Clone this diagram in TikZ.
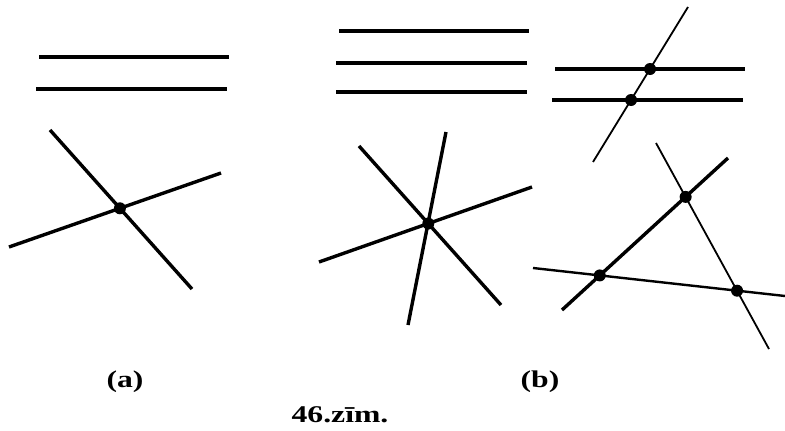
\documentclass[tikz,border=0pt]{standalone}
\usepackage{fontspec}
\setmainfont{Liberation Serif}
\usetikzlibrary{calc}

\tikzset{
  fatline/.style={line width=3.4pt},
  midline/.style={line width=2.4pt},
  thinline/.style={line width=1.8pt},
  dot/.style={circle,fill=black,inner sep=0pt,minimum size=12pt},
  caption/.style={font=\fontsize{24}{26}\selectfont\bfseries}
}
\newcommand{\widetext}[1]{\scalebox{1.32}[1]{#1}}

\begin{document}
\begin{tikzpicture}[x=1pt,y=-1pt]
\useasboundingbox (0,0) rectangle (785,431);

% (a) two parallel lines
\coordinate (pa1) at (39,57);  \coordinate (pa2) at (229,57);
\coordinate (pb1) at (36,89);  \coordinate (pb2) at (227,89);
\draw[fatline] (pa1) -- (pa2);
\draw[fatline] (pb1) -- (pb2);

% (a) two crossing lines
\coordinate (xa1) at (50,130);  \coordinate (xa2) at (192,289);
\coordinate (xb1) at (9,247);   \coordinate (xb2) at (221,173);
\draw[fatline] (xa1) -- (xa2);
\draw[fatline] (xb1) -- (xb2);
\node[dot] (xo) at (intersection of xa1--xa2 and xb1--xb2) {};

% (b) three parallel lines
\coordinate (qa1) at (339,31); \coordinate (qa2) at (529,31);
\coordinate (qb1) at (336,63); \coordinate (qb2) at (527,63);
\coordinate (qc1) at (336,92); \coordinate (qc2) at (527,92);
\draw[fatline] (qa1) -- (qa2);
\draw[fatline] (qb1) -- (qb2);
\draw[fatline] (qc1) -- (qc2);

% (b) three lines through one point
\coordinate (sa1) at (359,146); \coordinate (sa2) at (501,305);
\coordinate (sb1) at (319,262); \coordinate (sb2) at (532,187);
\coordinate (sc1) at (446,132); \coordinate (sc2) at (408,325);
\draw[fatline] (sa1) -- (sa2);
\draw[fatline] (sb1) -- (sb2);
\draw[fatline] (sc1) -- (sc2);
\node[dot] (so) at (intersection of sa1--sa2 and sb1--sb2) {};

% (b) two parallels cut by a transversal
\coordinate (ta1) at (555,69);  \coordinate (ta2) at (745,69);
\coordinate (tb1) at (552,100); \coordinate (tb2) at (743,100);
\coordinate (tt1) at (688,7);   \coordinate (tt2) at (593,162);
\draw[fatline] (ta1) -- (ta2);
\draw[fatline] (tb1) -- (tb2);
\draw[thinline] (tt1) -- (tt2);
\node[dot] (to1) at (intersection of ta1--ta2 and tt1--tt2) {};
\node[dot] (to2) at (intersection of tb1--tb2 and tt1--tt2) {};

% (b) three lines, three points
\coordinate (ra1) at (728,158); \coordinate (ra2) at (562,310);
\coordinate (rb1) at (656,143); \coordinate (rb2) at (769,349);
\coordinate (rc1) at (533,268); \coordinate (rc2) at (785,296);
\draw[fatline] (ra1) -- (ra2);
\draw[thinline] (rb1) -- (rb2);
\draw[midline] (rc1) -- (rc2);
\node[dot] (ro1) at (intersection of ra1--ra2 and rb1--rb2) {};
\node[dot] (ro2) at (intersection of ra1--ra2 and rc1--rc2) {};
\node[dot] (ro3) at (intersection of rb1--rb2 and rc1--rc2) {};

% captions
\node[caption] (capa) at (125,382) {\widetext{(a)}};
\node[caption] (capb) at (540,382) {\widetext{(b)}};
\node[caption] (capfig) at (340,415) {\widetext{46.zīm.}};

\end{tikzpicture}
\end{document}
